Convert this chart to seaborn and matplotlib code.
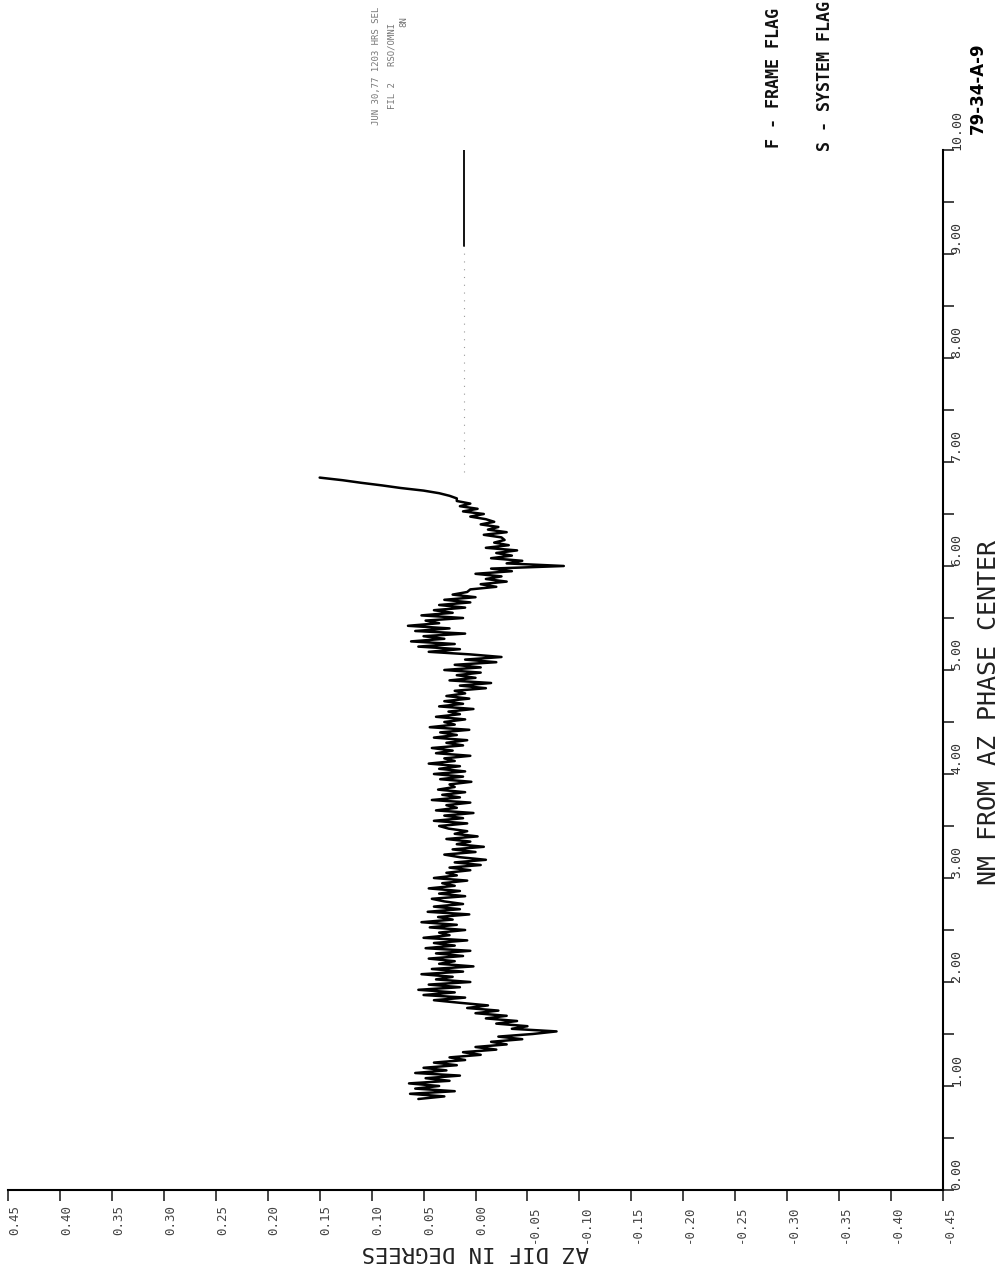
import numpy as np
import pandas as pd
import matplotlib
matplotlib.use("Agg")
import matplotlib.pyplot as plt
import seaborn as sns
from matplotlib.ticker import FixedLocator, FuncFormatter

# Azimuth difference (degrees) sampled every 0.025 NM from 0.875 NM outward
NM_START = 0.875
NM_STEP = 0.025
az_dif = [
    0.055, 0.030, 0.063, 0.020, 0.058, 0.035, 0.064, 0.025, 0.048, 0.015, 0.058, 0.028, 0.050, 0.018, 0.040, 0.010,
    0.025, -0.005, 0.012, -0.020, 0.000, -0.030,
    -0.015, -0.045, -0.022, -0.055, -0.078, -0.035, -0.050, -0.020, -0.040,
    -0.010, -0.030, 0.000, -0.022, 0.008, -0.012, 0.015,
    0.040, 0.010, 0.050, 0.020, 0.055, 0.015, 0.045, 0.005, 0.038, 0.022, 0.052, 0.012, 0.042, 0.002, 0.035, 0.020,
    0.045, 0.012, 0.038, 0.005, 0.048, 0.020, 0.040, 0.008, 0.050, 0.025, 0.035, 0.010, 0.044, 0.018, 0.052, 0.022,
    0.036, 0.006, 0.046, 0.015, 0.040, 0.012, 0.030,
    0.042, 0.010, 0.035, 0.015, 0.045, 0.020, 0.032, 0.008, 0.040, 0.018, 0.028, 0.005,
    0.025, -0.005, 0.020, -0.010, 0.015, 0.030, 0.000, 0.022, -0.008, 0.018, 0.005, 0.028, -0.002, 0.020, 0.008, 0.026,
    0.035, 0.008, 0.040, 0.012, 0.030, 0.002, 0.038, 0.018, 0.028, 0.005, 0.042, 0.015, 0.032, 0.010, 0.036, 0.020,
    0.025, 0.004, 0.034, 0.012,
    0.040, 0.010, 0.035, 0.015, 0.045, 0.020, 0.030, 0.005, 0.038, 0.022, 0.042, 0.012, 0.028, 0.008, 0.040, 0.018,
    0.034, 0.006, 0.044, 0.020, 0.030, 0.010, 0.038, 0.015, 0.026, 0.002, 0.035, 0.012, 0.030, 0.006, 0.028, 0.010,
    0.020, -0.010, 0.015, -0.015, 0.025, 0.000, 0.018, -0.005,
    0.030, -0.005, 0.020, -0.020, 0.010, -0.025, 0.005,
    0.045, 0.015, 0.055, 0.020, 0.062, 0.030, 0.050, 0.010, 0.058, 0.025, 0.065, 0.035, 0.048, 0.012, 0.052, 0.022,
    0.040, 0.010, 0.035, 0.005, 0.030, 0.000, 0.022, 0.008,
    0.005, -0.020, -0.005, -0.030, -0.010, -0.025, 0.000, -0.035, -0.015,
    -0.085,
    -0.030, -0.045, -0.015, -0.035, -0.020, -0.040, -0.010, -0.032, -0.018, -0.028,
    -0.025, -0.008, -0.030, -0.012, -0.022, -0.005, -0.018, -0.010,
    0.005, -0.008, 0.012, -0.002, 0.015, 0.005, 0.018,
    0.018, 0.025, 0.035, 0.050, 0.072, 0.090, 0.110, 0.128, 0.150,
]
nm_range = NM_START + NM_STEP * np.arange(len(az_dif))

# Flagged tail: held value out to 10 NM
tail_nm = [9.08, 10.0]
tail_az = [0.0106, 0.0106]
gap_nm = [6.90, 9.08]
gap_az = [0.0106, 0.0106]

az_ticks = [0.45, 0.40, 0.35, 0.30, 0.25, 0.20, 0.15, 0.10, 0.05, 0.00,
            -0.05, -0.10, -0.15, -0.20, -0.25, -0.30, -0.35, -0.40, -0.45]
nm_major = [0, 1, 2, 3, 4, 5, 6, 7, 8, 9, 10]
nm_minor = [0.5, 1.5, 2.5, 3.5, 4.5, 5.5, 6.5, 7.5, 8.5, 9.5]


def two_dec(v, _pos):
    v = 0.0 if abs(v) < 1e-9 else v
    return f"{v:.2f}"


sns.set_style("ticks")
plt.rcParams["font.family"] = ["DejaVu Sans Mono", "DejaVu Sans"]

fig = plt.figure(figsize=(10, 12.68), dpi=100)
ax = fig.add_axes([0.008, 1 - 1190 / 1268, 0.935, 1040 / 1268])

df = pd.DataFrame({"az": az_dif, "nm": nm_range})
sns.lineplot(data=df, x="az", y="nm", sort=False, estimator=None,
             color="black", linewidth=1.8, ax=ax)
sns.lineplot(x=gap_az, y=gap_nm, sort=False, estimator=None,
             color="#9a9a9a", linewidth=0.8, linestyle=(0, (1, 6)), ax=ax)
sns.lineplot(x=tail_az, y=tail_nm, sort=False, estimator=None,
             color="black", linewidth=1.3, ax=ax)

ax.set_xlim(0.45, -0.45)
ax.set_ylim(0, 10)

for side in ("top", "left"):
    ax.spines[side].set_visible(False)
for side in ("bottom", "right"):
    ax.spines[side].set_linewidth(1.5)
    ax.spines[side].set_color("black")

ax.xaxis.set_major_locator(FixedLocator(az_ticks))
ax.xaxis.set_major_formatter(FuncFormatter(two_dec))
ax.yaxis.tick_right()
ax.yaxis.set_major_locator(FixedLocator(nm_major))
ax.yaxis.set_minor_locator(FixedLocator(nm_minor))
ax.yaxis.set_major_formatter(FuncFormatter(two_dec))

ax.tick_params(axis="x", direction="out", length=8, width=1.2, pad=3,
               labelsize=9, labelcolor="#444444")
ax.tick_params(axis="y", which="both", direction="out", length=8, width=1.2,
               pad=-3, labelsize=9.5, labelcolor="#333333", right=True, left=False)
plt.setp(ax.get_xticklabels(), rotation=90, rotation_mode="anchor",
         ha="right", va="top")
plt.setp(ax.get_yticklabels(), rotation=90, rotation_mode="anchor",
         ha="left", va="top")

ax.set_xlabel("AZ DIF IN DEGREES", rotation=180, fontsize=16,
              color="#222222", va="center", ha="center")
ax.xaxis.set_label_coords(0.4995, -0.060)
ax.yaxis.set_label_position("right")
ax.set_ylabel("NM FROM AZ PHASE CENTER", rotation=90, fontsize=18,
              color="#222222", va="center", ha="center")
ax.yaxis.set_label_coords(1.049, 0.4587)

# Run header and flag legend
fig.text(0.377, 1 - 66 / 1268, "JUN 30,77 1203 HRS SEL", rotation=90,
         fontsize=6.5, color="#777777", ha="center", va="center")
fig.text(0.392, 1 - 66 / 1268, "FIL 2   RSO/OMNI", rotation=90,
         fontsize=6.5, color="#777777", ha="center", va="center")
fig.text(0.404, 1 - 22 / 1268, "8N", rotation=90,
         fontsize=6.5, color="#777777", ha="center", va="center")

fig.text(0.774, 1 - 78 / 1268, "F - FRAME FLAG", rotation=90, fontsize=12,
         fontweight="bold", color="#111111", ha="center", va="center")
fig.text(0.825, 1 - 76 / 1268, "S - SYSTEM FLAG", rotation=90, fontsize=12,
         fontweight="bold", color="#111111", ha="center", va="center")
fig.text(0.978, 1 - 88 / 1268, "79-34-A-9", rotation=90, fontsize=12,
         fontweight="bold", family="DejaVu Sans", color="black",
         ha="center", va="center")

fig.savefig("out.png", dpi=100, facecolor="white")
